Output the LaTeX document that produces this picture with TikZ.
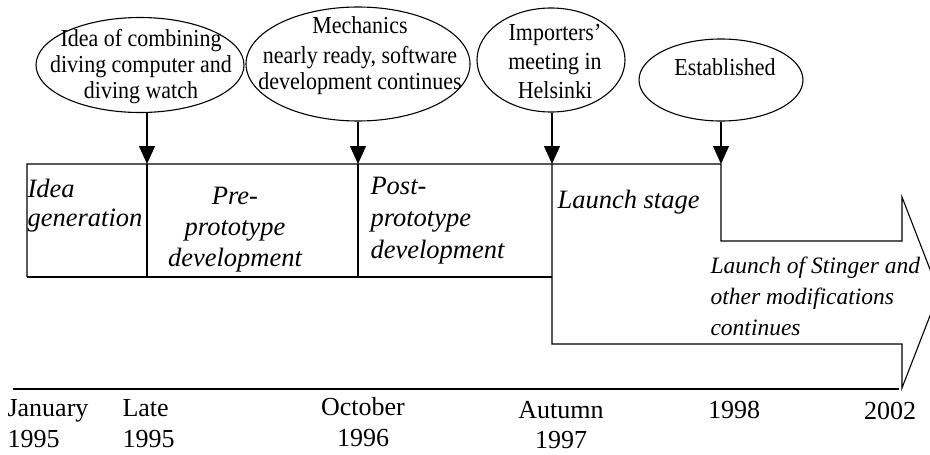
\documentclass[tikz,border=0pt]{standalone}
\usepackage{fontspec}
\setmainfont{Liberation Serif}
\newfontfamily\notefont[FakeStretch=0.9]{Liberation Serif}
\usetikzlibrary{shapes.geometric,arrows.meta}

\tikzset{
  event/.style={draw, ellipse, line width=1.1pt, inner sep=0pt},
  note/.style={align=center, inner sep=0pt, font=\notefont\fontsize{24.4}{26}\selectfont},
  phase/.style={align=left, inner sep=0pt, font=\fontsize{26.5}{31}\selectfont\itshape},
  date/.style={inner sep=0pt, font=\fontsize{26}{31}\selectfont},
  milestone/.style={-{Triangle[length=18pt,width=16pt]}, line width=1.1pt},
}

\begin{document}
\begin{tikzpicture}[x=1pt,y=-1pt,line width=1.1pt]
\clip (0,0) rectangle (930,455);

\node[event, minimum width=208pt, minimum height=95pt] (E1) at (140,65) {};
\node[event, minimum width=224pt, minimum height=114pt] (E2) at (358,64) {};
\node[event, minimum width=148pt, minimum height=104pt] (E3) at (551,60) {};
\node[event, minimum width=164pt, minimum height=82pt] (E4) at (721,80) {};

\node[note, anchor=north] (T1) at (141,29) {Idea of combining\\diving computer and\\diving watch};
\node[note, anchor=north] (T2) at (360,16) {Mechanics\\[4pt]nearly ready, software\\development continues};
\node[note, anchor=north] (T3) at (555,23.5) {Importers’\\[3pt]meeting in\\[3pt]Helsinki};
\node[note, anchor=north] (T4) at (725,58) {Established};

\coordinate (M1) at (147,164);
\coordinate (M2) at (358,164);
\coordinate (M3) at (552,164);
\coordinate (M4) at (721,164);

\draw[milestone] (E1.south -| M1) -- (M1);
\draw[milestone] (E2.south -| M2) -- (M2);
\draw[milestone] (E3.south -| M3) -- (M3);
\draw[milestone] (E4.south -| M4) -- (M4);

\draw (27,277) -- (27,164) -- (M4) -- (721,241) -- (902,241) -- (902,197)
  -- (939,292.5) -- (902,388) -- (902,344) -- (552,344) -- (M3);
\draw (27,277) -- (552,277);
\draw (M1) -- (M1 |- 0,277);
\draw (M2) -- (M2 |- 0,277);

\draw[line width=2pt] (13,389) -- (899,389);

\node[phase, anchor=north west] (P1) at (27,179) {Idea\\[-2pt]generation};
\node[phase, anchor=north, align=center] (P2) at (235,187) {Pre-\\prototype\\development};
\node[phase, anchor=north west] (P3) at (370,177) {Post-\\[1pt]prototype\\[1pt]development};
\node[phase, anchor=north west] (P4) at (557,190) {Launch stage};
\node[phase, anchor=north west, font=\fontsize{23.5}{31}\selectfont\itshape] (P5) at (710,256) {Launch of Stinger and\\other modifications\\continues};

\node[date, anchor=north west, align=left] (D1) at (7,399) {January\\1995};
\node[date, anchor=north west, align=left] (D2) at (122,399) {Late\\1995};
\node[date, anchor=north, align=center] (D3) at (363,397) {October\\1996};
\node[date, anchor=north, align=center] (D4) at (561,401) {Autumn\\[-1pt]1997};
\node[date, anchor=north] (D5) at (734,401) {1998};
\node[date, anchor=north] (D6) at (890,402) {2002};
\end{tikzpicture}
\end{document}
